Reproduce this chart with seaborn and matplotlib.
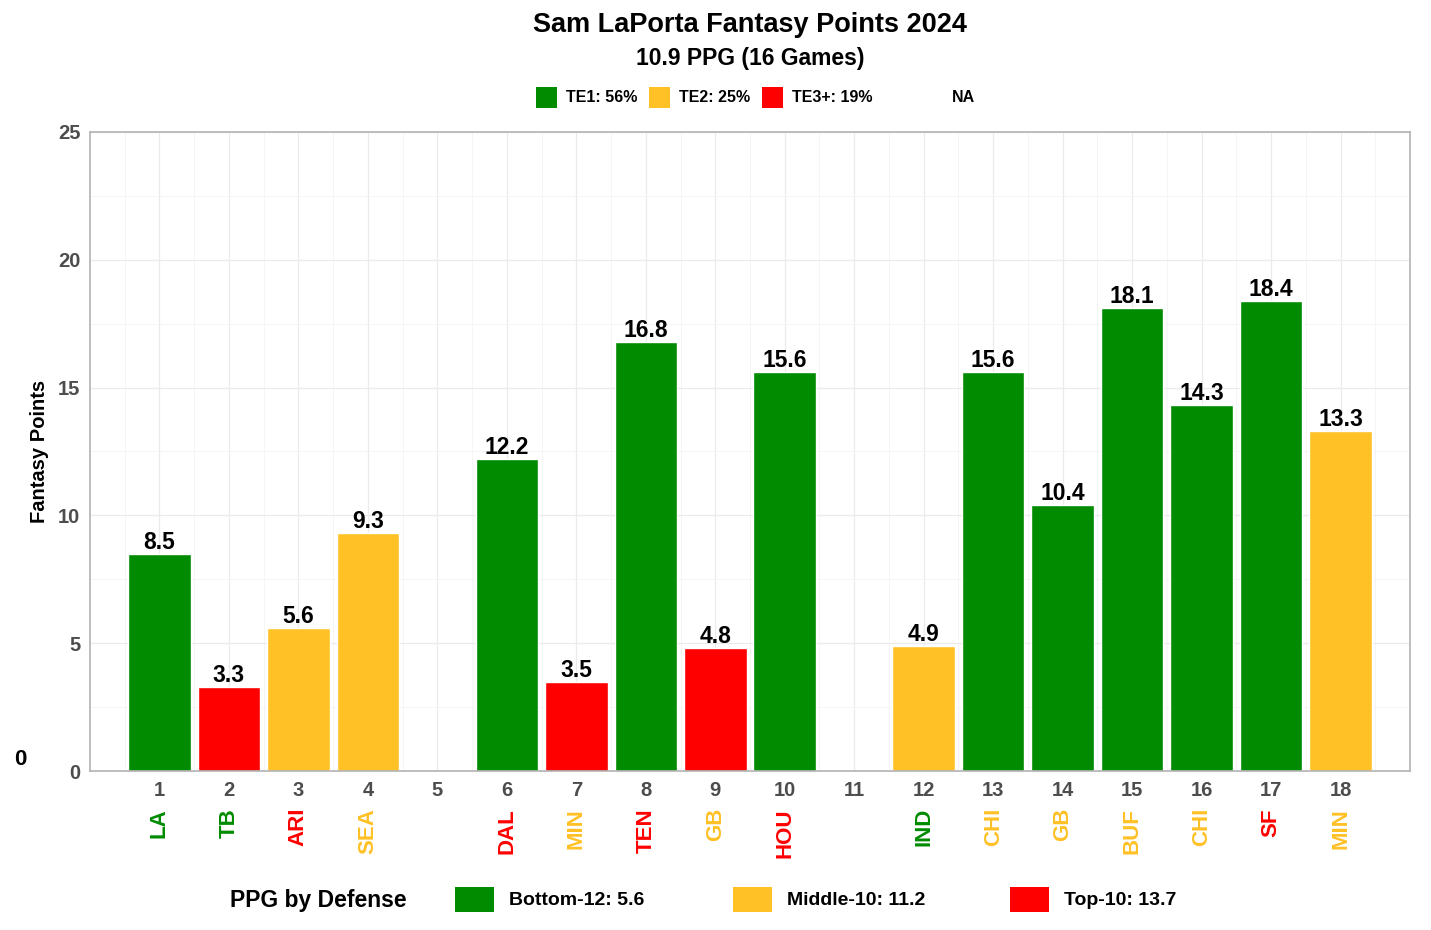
import seaborn as sns
import numpy as np
import pandas as pd
import matplotlib.pyplot as plt
from matplotlib.patches import Rectangle
from matplotlib.ticker import MultipleLocator
import matplotlib.transforms as mtransforms

sns.set_style("white")
plt.rcParams['font.family'] = ['Liberation Sans', 'DejaVu Sans']
plt.rcParams['font.weight'] = 'bold'
plt.rcParams['text.color'] = 'black'
plt.rcParams['axes.labelcolor'] = 'black'

# data
weeks = list(range(1, 19))
points = [8.5, 3.3, 5.6, 9.3, None, 12.2, 3.5, 16.8, 4.8, 15.6, None,
          4.9, 15.6, 10.4, 18.1, 14.3, 18.4, 13.3]
te_tier = ["TE1", "TE3+", "TE2", "TE2", None, "TE1", "TE3+", "TE1", "TE3+", "TE1", None,
           "TE2", "TE1", "TE1", "TE1", "TE1", "TE1", "TE2"]
opponents = ["LA", "TB", "ARI", "SEA", "", "DAL", "MIN", "TEN", "GB", "HOU", "",
             "IND", "CHI", "GB", "BUF", "CHI", "SF", "MIN"]
def_tier = ["Bottom", "Bottom", "Top", "Middle", None, "Top", "Middle", "Top", "Middle", "Top", None,
            "Bottom", "Middle", "Middle", "Middle", "Middle", "Top", "Middle"]

te_labels = ["TE1: 56%", "TE2: 25%", "TE3+: 19%"]
def_labels = ["Bottom-12: 5.6", "Middle-10: 11.2", "Top-10: 13.7"]

GREEN, GOLD, RED = "#008B00", "#FFC125", "#FF0000"
te_pal = {"TE1": GREEN, "TE2": GOLD, "TE3+": RED}
def_pal = {"Bottom": GREEN, "Middle": GOLD, "Top": RED}

df = pd.DataFrame({"week": weeks, "pts": points, "te": te_tier,
                   "opp": opponents, "dfn": def_tier}).dropna(subset=["pts"])

W, H = 1431, 930
fig = plt.figure(figsize=(W / 100, H / 100), dpi=100)
ax = fig.add_axes([90 / W, (H - 771) / H, 1320 / W, 639 / H])

def px(x, y):
    return x / W, 1 - y / H

sns.barplot(data=df, x="week", y="pts", hue="te", palette=te_pal, native_scale=True,
            dodge=False, width=0.9, legend=False, saturation=1, ax=ax, zorder=2)

for _, r in df.iterrows():
    ax.annotate(f"{r.pts:.1f}", (r.week, r.pts), xytext=(0, 0), textcoords="offset points",
                ha="center", va="bottom", fontsize=16.5, fontweight="bold", color="black")

trans = mtransforms.blended_transform_factory(ax.transData, ax.transAxes)
for _, r in df.iterrows():
    ax.text(r.week, -0.058, r.opp, rotation=90, ha="center", va="top", transform=trans,
            fontsize=16, fontweight="bold", color=def_pal[r.dfn])

ax.set_xlim(0, 19)
ax.set_ylim(0, 25)
ax.set_xticks(weeks)
ax.set_xticklabels([str(w) for w in weeks])
ax.xaxis.set_minor_locator(MultipleLocator(0.5))
ax.yaxis.set_major_locator(MultipleLocator(5))
ax.yaxis.set_minor_locator(MultipleLocator(2.5))
ax.grid(which="major", color="#EBEBEB", linewidth=0.9, zorder=0)
ax.grid(which="minor", color="#F4F4F4", linewidth=0.6, zorder=0)
ax.set_axisbelow(True)
for s in ax.spines.values():
    s.set_color("#B3B3B3")
    s.set_linewidth(1.2)
ax.tick_params(axis="both", which="major", length=4, color="#B3B3B3", labelsize=14.5,
               labelcolor="#4D4D4D", pad=3)
ax.tick_params(axis="both", which="minor", length=0)
for lab in ax.get_xticklabels() + ax.get_yticklabels():
    lab.set_fontweight("bold")
ax.set_xlabel("")
ax.set_ylabel("Fantasy Points", fontsize=14.5, fontweight="bold", labelpad=6, color="black")

fig.text(*px(750, 25), "Sam LaPorta Fantasy Points 2024", ha="center", va="center",
         fontsize=19.5, fontweight="bold", color="black")
fig.text(*px(750, 58), "10.9 PPG (16 Games)", ha="center", va="center",
         fontsize=16.5, fontweight="bold", color="black")

# top legend (TE rank)
top_x = [536, 649, 762]
for x0, lab, key in zip(top_x, te_labels, ["TE1", "TE2", "TE3+"]):
    fig.patches.append(Rectangle(px(x0, 108), 21 / W, 21 / H, transform=fig.transFigure,
                                 facecolor=te_pal[key], edgecolor="none"))
    fig.text(*px(x0 + 30, 98), lab, ha="left", va="center", fontsize=11.5, fontweight="bold")
fig.text(*px(952, 98), "NA", ha="left", va="center", fontsize=11.5, fontweight="bold")

# bottom legend (defense rank)
fig.text(*px(230, 900), "PPG by Defense", ha="left", va="center", fontsize=16.5, fontweight="bold")
bot_x = [455, 733, 1010]
for x0, lab, key in zip(bot_x, def_labels, ["Bottom", "Middle", "Top"]):
    fig.patches.append(Rectangle(px(x0, 912), 39 / W, 25 / H, transform=fig.transFigure,
                                 facecolor=def_pal[key], edgecolor="none"))
    fig.text(*px(x0 + 54, 900), lab, ha="left", va="center", fontsize=14, fontweight="bold")

fig.text(*px(20, 759), "0", ha="center", va="center", fontsize=16, fontweight="bold")

fig.savefig("out.png", dpi=100)
